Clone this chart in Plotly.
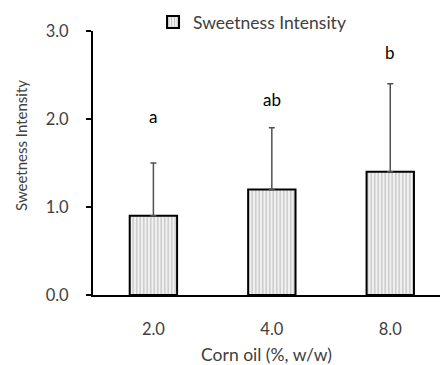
import plotly.graph_objects as go

# Data
categories = ["2.0", "4.0", "8.0"]
sweetness = [0.9, 1.2, 1.4]
sd_upper = [0.6, 0.7, 1.0]
letters = ["a", "ab", "b"]
letter_y = [2.03, 2.22, 2.76]
y_ticks = [0.0, 1.0, 2.0, 3.0]

font_family = "Lato, Open Sans, sans-serif"
text_color = "#404040"

fig = go.Figure()
fig.add_trace(go.Bar(
    x=categories,
    y=sweetness,
    name="Sweetness Intensity",
    width=0.4,
    marker=dict(
        color="#e6e6e6",
        line=dict(color="black", width=2),
        pattern=dict(shape="|", fgcolor="#8c8c8c", bgcolor="#f2f2f2", size=3.5, solidity=0.35),
    ),
    error_y=dict(
        type="data", symmetric=False, array=sd_upper,
        arrayminus=[0] * len(sd_upper),
        color="#505050", thickness=1.5, width=3,
    ),
))

# significance letters above each bar
for i, (t, yy) in enumerate(zip(letters, letter_y)):
    fig.add_annotation(x=i, y=yy, xref="x", yref="y", text=t, showarrow=False,
                       font=dict(size=17, color="black", family=font_family))

# vertical axis label
fig.add_annotation(x=21, y=146, xref="paper", yref="paper", text="Sweetness Intensity",
                   textangle=-90, showarrow=False, xanchor="center", yanchor="middle",
                   font=dict(size=15, color=text_color, family=font_family))

fig.update_layout(
    width=440, height=365,
    margin=dict(l=93, r=0, t=31, b=70),
    paper_bgcolor="white", plot_bgcolor="white",
    font=dict(family=font_family, color=text_color),
    showlegend=True,
    legend=dict(
        orientation="h", x=0.173, xanchor="left", y=1.034, yanchor="middle",
        font=dict(size=17.5, color=text_color),
        itemwidth=30, bgcolor="rgba(0,0,0,0)",
    ),
)

# paper coordinates for the vertical label, converted from pixels
ann = fig.layout.annotations[-1]
plot_w, plot_h = 440 - 93, 365 - 31 - 70
ann.x = (ann.x - 93) / plot_w
ann.y = (365 - 70 - ann.y) / plot_h

fig.update_xaxes(
    type="category",
    range=[-0.51, 2.42],
    showline=True, linecolor="black", linewidth=2,
    ticks="", tickfont=dict(size=16.5, color=text_color),
    ticklabelstandoff=18,
    title=dict(text="Corn oil (%, w/w)", font=dict(size=17.5, color=text_color), standoff=13),
    showgrid=False, zeroline=False,
)
fig.update_yaxes(
    range=[0, 3], tickvals=y_ticks, ticktext=[f"{v:.1f}" for v in y_ticks],
    showline=True, linecolor="black", linewidth=2,
    ticks="outside", ticklen=5, tickwidth=2, tickcolor="black",
    tickfont=dict(size=16.5, color=text_color),
    ticklabelstandoff=14,
    showgrid=False, zeroline=False,
)

fig.write_html("out.html")
